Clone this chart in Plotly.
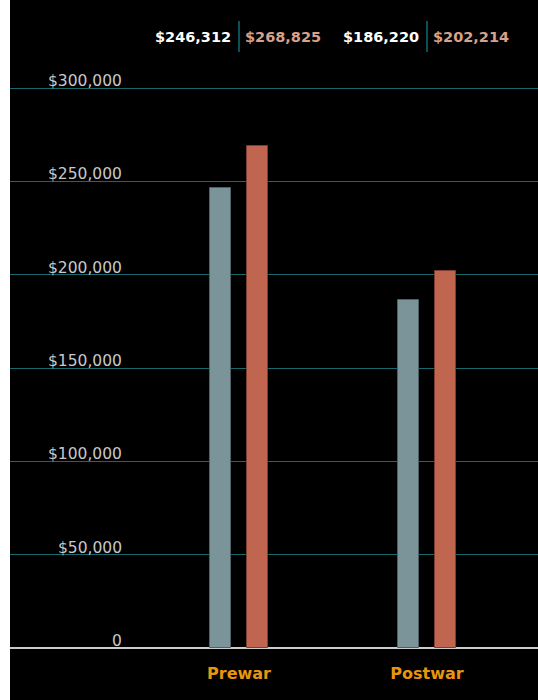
import plotly.graph_objects as go

categories = ["Prewar", "Postwar"]
series_a = [246312, 186220]   # blue-gray
series_b = [268825, 202214]   # red
label_a = ["$246,312", "$186,220"]
label_b = ["$268,825", "$202,214"]
y_ticks = [0, 50000, 100000, 150000, 200000, 250000, 300000]
y_tick_text = ["0", "$50,000", "$100,000", "$150,000", "$200,000", "$250,000", "$300,000"]

W, H = 538, 700
ML, MB = 10, 52
plot_h = H - MB
plot_w = W - ML
cat_px = 188.0  # spacing between categories in px
x0_px = 239 - ML
x_range = [-x0_px / cat_px, (plot_w - x0_px) / cat_px]
bar_w = 21 / cat_px
y_max = 300000 * plot_h / 560.0

fig = go.Figure()
fig.add_trace(go.Bar(
    x=list(range(len(categories))), y=series_a, width=bar_w,
    offset=-(18.5 / cat_px) - bar_w / 2,
    marker=dict(color="#7a9499", line=dict(color="#4f6166", width=1)),
    hoverinfo="skip", showlegend=False))
fig.add_trace(go.Bar(
    x=list(range(len(categories))), y=series_b, width=bar_w,
    offset=(18.5 / cat_px) - bar_w / 2,
    marker=dict(color="#c0654f", line=dict(color="#7e3f30", width=1)),
    hoverinfo="skip", showlegend=False))

annotations = []
for v, t in zip(y_ticks, y_tick_text):
    annotations.append(dict(
        x=(124 - ML) / plot_w, xref="paper", y=v, yref="y",
        text=t, showarrow=False, xanchor="right", yanchor="bottom", yshift=-4,
        font=dict(family="DejaVu Sans", size=15.5, color="#c8c8c8")))

shapes = []
top_y = (plot_h - 37) / plot_h
for i in range(len(categories)):
    annotations.append(dict(
        x=i, xref="x", y=top_y, yref="paper", text=label_a[i], showarrow=False,
        xanchor="right", yanchor="middle", xshift=-6,
        font=dict(family="DejaVu Sans", size=14.5, color="#ffffff", weight="bold")))
    annotations.append(dict(
        x=i, xref="x", y=top_y, yref="paper", text=label_b[i], showarrow=False,
        xanchor="left", yanchor="middle", xshift=4,
        font=dict(family="DejaVu Sans", size=14.5, color="#d9a08a", weight="bold")))
    shapes.append(dict(
        type="line", xref="x", yref="paper", x0=i, x1=i,
        y0=(plot_h - 52) / plot_h, y1=(plot_h - 21) / plot_h,
        line=dict(color="#0f6b70", width=1.5)))

shapes.append(dict(type="rect", xref="paper", yref="paper",
                   x0=-ML / plot_w - 0.01, x1=0, y0=-0.2, y1=1.05,
                   fillcolor="white", line=dict(width=0), layer="above"))

fig.update_layout(
    width=W, height=H,
    margin=dict(l=ML, r=0, t=0, b=MB, pad=0),
    paper_bgcolor="black", plot_bgcolor="black",
    bargap=0,
    xaxis=dict(range=x_range, tickmode="array", tickvals=list(range(len(categories))),
               ticktext=categories, showgrid=False, zeroline=False, showline=False,
               ticks="", ticklabelstandoff=14,
               tickfont=dict(family="DejaVu Sans", size=16, color="#e8960c", weight="bold")),
    yaxis=dict(range=[0, y_max], tickvals=y_ticks, showticklabels=False,
               showgrid=True, gridcolor="#16696e", gridwidth=1,
               zeroline=True, zerolinecolor="#cccccc", zerolinewidth=2, showline=False),
    annotations=annotations, shapes=shapes,
)

fig.write_html("out.html")
